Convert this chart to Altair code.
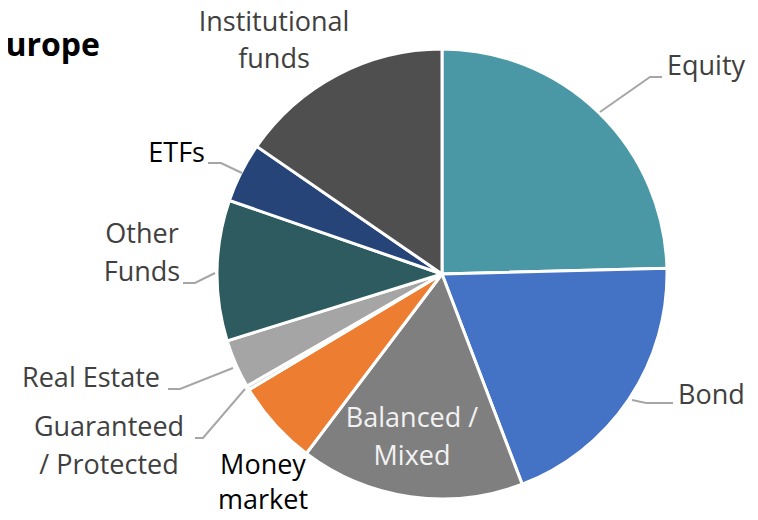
import altair as alt
import pandas as pd

# ---- data ----
categories = ["Equity", "Bond", "Balanced / Mixed", "Money market",
              "Guaranteed / Protected", "Real Estate", "Other Funds", "ETFs",
              "Institutional funds"]
shares = [24.6, 19.6, 16.1, 6.1, 0.3, 3.5, 10.1, 4.3, 15.4]
colors = ["#4a98a5", "#4472c4", "#7f7f7f", "#ed7d31", "#d9d9d9",
          "#a5a5a5", "#2d5b5f", "#264478", "#4f4f4f"]

# label lines (text shown), split across lines as in the reference
label_lines = [["Equity"], ["Bond"], ["Balanced /", "Mixed"], ["Money", "market"],
               ["Guaranteed", "/ Protected"], ["Real Estate"], ["Other", "Funds"],
               ["ETFs"], ["Institutional", "funds"]]

# ---- layout (view coordinates; page = view + 8) ----
W, H = 742, 504
CX, CY, R = 434, 266, 225
OFF = 8
label_pos = {  # x anchor, first baseline, align, color, line height
    "Equity": (667, 75, "left", "#404040", 38),
    "Bond": (678, 404, "left", "#404040", 38),
    "Balanced / Mixed": (412, 427, "center", "#f2f2f2", 38),
    "Money market": (263, 474, "center", "#000000", 35),
    "Guaranteed / Protected": (109, 436, "center", "#404040", 38),
    "Real Estate": (160, 387, "right", "#404040", 38),
    "Other Funds": (142, 243, "center", "#404040", 38),
    "ETFs": (205, 162, "right", "#000000", 38),
    "Institutional funds": (274, 31, "center", "#404040", 37),
}
leaders = {
    "Equity": [(600, 112), (650, 77), (662, 77)],
    "Bond": [(632, 400), (646, 403), (673, 403)],
    "ETFs": [(208, 163), (221, 163), (242, 173)],
    "Other Funds": [(183, 283), (195, 283), (215, 273)],
    "Real Estate": [(168, 389), (180, 389), (233, 368)],
    "Guaranteed / Protected": [(195, 438), (203, 438), (245, 389)],
}

pie_df = pd.DataFrame({"cat": categories, "share": shares,
                       "idx": list(range(len(categories)))})

pie = alt.Chart(pie_df).mark_arc(stroke="white", strokeWidth=3).encode(
    theta=alt.Theta("share:Q", stack=True),
    order=alt.Order("idx:Q"),
    color=alt.Color("cat:N", scale=alt.Scale(domain=categories, range=colors),
                    legend=None),
    x=alt.value(CX), y=alt.value(CY), radius=alt.value(R),
)

rows = []
for cat, lines in zip(categories, label_lines):
    x, y, align, col, lh = label_pos[cat]
    for i, t in enumerate(lines):
        rows.append({"t": t, "x": x - OFF, "y": y - OFF + i * lh,
                     "align": align, "col": col})
lab_df = pd.DataFrame(rows)

text_layers = []
for align in ["left", "center", "right"]:
    sub = lab_df[lab_df["align"] == align]
    if len(sub) == 0:
        continue
    text_layers.append(
        alt.Chart(sub).mark_text(align=align, baseline="alphabetic",
                                 font="Open Sans", fontSize=27).encode(
            x=alt.X("x:Q", scale=None), y=alt.Y("y:Q", scale=None),
            text="t:N", color=alt.Color("col:N", scale=None))
    )

lrows = []
for cat, pts in leaders.items():
    for j, (px, py) in enumerate(pts):
        lrows.append({"cat": cat, "j": j, "x": px - OFF, "y": py - OFF})
lead = alt.Chart(pd.DataFrame(lrows)).mark_line(color="#a6a6a6", strokeWidth=2).encode(
    x=alt.X("x:Q", scale=None), y=alt.Y("y:Q", scale=None),
    detail="cat:N", order="j:Q")

title = alt.Chart(pd.DataFrame({"t": ["Europe"]})).mark_text(
    align="right", baseline="alphabetic", font="Open Sans", fontSize=32,
    fontWeight="bold", color="#000000").encode(
    x=alt.value(100 - OFF), y=alt.value(56 - OFF), text="t:N")

chart = alt.layer(pie, lead, *text_layers, title).properties(
    width=W, height=H, padding=0, autosize=alt.AutoSizeParams(type="none")
).configure_view(strokeWidth=0)

chart.save("out.html", embed_options={"renderer": "svg", "actions": False})
